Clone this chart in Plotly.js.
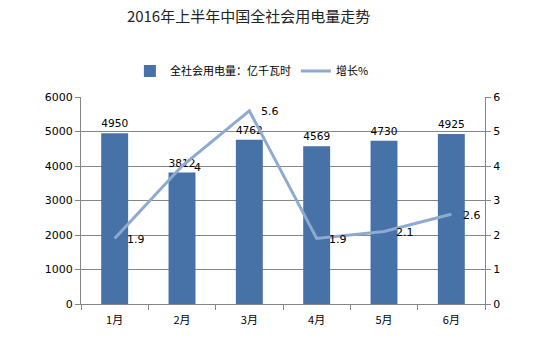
<!DOCTYPE html>
<html><head><meta charset="utf-8">
<script src="https://cdn.plot.ly/plotly-3.0.1.min.js"></script>
<style>body{margin:0}#c{width:556px;height:357px}</style>
</head><body><div id="c"></div>
<script>
var months = ["1月","2月","3月","4月","5月","6月"];
var usage = [4950, 3812, 4762, 4569, 4730, 4925];
var growth = [1.9, 4, 5.6, 1.9, 2.1, 2.6];

var font = "DejaVu Sans, Verdana, sans-serif";
var cjk = "'Noto Sans CJK SC', 'DejaVu Sans', sans-serif";
var data = [
  {type:"bar", name:"全社会用电量：亿千瓦时", x:months, y:usage,
   marker:{color:"#4672a8"}, text:usage.map(String), textposition:"outside",
   textfont:{family:font, size:11, color:"#000"}, cliponaxis:false},
  {type:"scatter", mode:"lines", name:"增长%", x:months, y:growth, yaxis:"y2",
   line:{color:"#8eaad0", width:3}, cliponaxis:false}
];
var annotations = growth.map(function(v, i){
  return {x:months[i], y:v, xref:"x", yref:"y2", text:String(v), showarrow:false,
          xanchor:"left", yanchor:"middle", xshift:10, yshift:-1,
          font:{family:font, size:11, color:"#000"}};
});
var layout = {
  width:556, height:357, margin:{l:81, r:71, t:97, b:53},
  paper_bgcolor:"#fff", plot_bgcolor:"#fff",
  title:{text:"2016年上半年中国全社会用电量走势", x:0.447, xanchor:"center", y:0.952, yanchor:"middle",
         font:{family:cjk, size:15, color:"#222"}},
  bargap:0.6, showlegend:true, annotations:annotations,
  legend:{orientation:"h", x:0.121, y:1.126, xanchor:"left", yanchor:"middle",
          font:{family:cjk, size:11, color:"#000"}, traceorder:"normal"},
  xaxis:{type:"category", showline:true, linecolor:"#868686", linewidth:1,
         ticks:"outside", ticklen:5, tickcolor:"#868686", tickson:"boundaries",
         ticklabelstandoff:6,
         tickfont:{family:cjk, size:11, color:"#000"}, showgrid:false, fixedrange:true},
  yaxis:{range:[0,6000], dtick:1000, showline:true, linecolor:"#868686", linewidth:1,
         ticks:"outside", ticklen:5, tickcolor:"#868686", gridcolor:"#868686", gridwidth:1,
         tickfont:{family:font, size:11, color:"#000"}, zeroline:false},
  yaxis2:{range:[0,6], dtick:1, overlaying:"y", side:"right", showline:true, linecolor:"#868686",
          ticks:"outside", ticklen:5, tickcolor:"#868686", showgrid:false, zeroline:false,
          tickfont:{family:font, size:11, color:"#000"}}
};
Plotly.newPlot("c", data, layout, {displayModeBar:false, staticPlot:true});
</script></body></html>
